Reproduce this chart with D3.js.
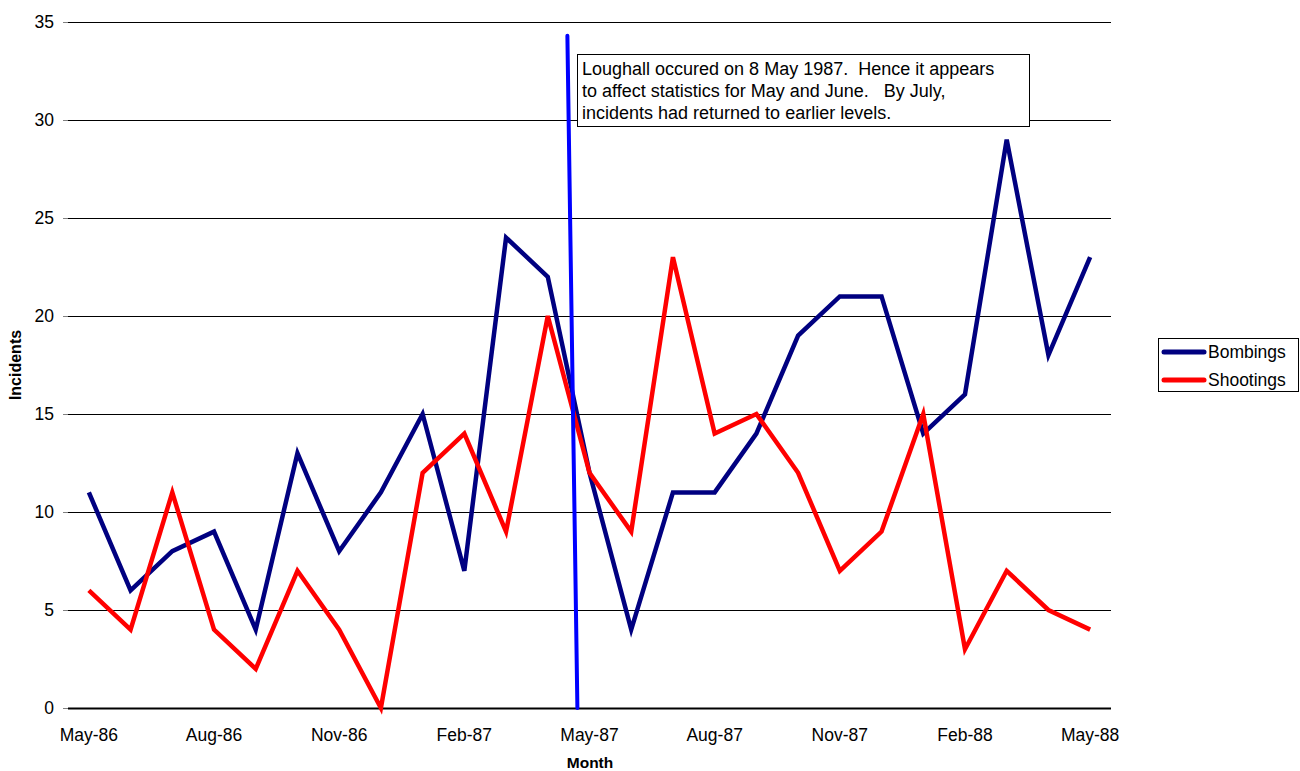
<!DOCTYPE html>
<html><head><meta charset="utf-8">
<script src="https://cdn.jsdelivr.net/npm/d3@7"></script>
<style>body{margin:0;background:#fff;}svg{display:block;font-family:"Liberation Sans",Arial,sans-serif;}</style>
</head><body>
<svg id="c" width="1300" height="771"></svg>
<script>
const months = ["May-86","Jun-86","Jul-86","Aug-86","Sep-86","Oct-86","Nov-86","Dec-86","Jan-87","Feb-87","Mar-87","Apr-87","May-87","Jun-87","Jul-87","Aug-87","Sep-87","Oct-87","Nov-87","Dec-87","Jan-88","Feb-88","Mar-88","Apr-88","May-88"];
const bombings = [11,6,8,9,4,13,8,11,15,7,24,22,12,4,11,11,14,19,21,21,14,16,29,18,23];
const shootings = [6,4,11,4,2,7,4,0,12,14,9,20,12,9,23,14,15,12,7,9,15,3,7,5,4];
const yTicks = [0,5,10,15,20,25,30,35];
const xTickLabels = ["May-86","Aug-86","Nov-86","Feb-87","May-87","Aug-87","Nov-87","Feb-88","May-88"];
const seriesNames = ["Bombings","Shootings"];
const seriesColors = ["#000080","#FF0000"];
const markerLine = [{i:11.47,v:34.3},{i:11.71,v:0}];
const noteLines = ["Loughall occured on 8 May 1987.  Hence it appears","to affect statistics for May and June.   By July,","incidents had returned to earlier levels."];

const svg = d3.select("#c");
const L=68, R=1111, T=22, B=708;
const x = d3.scaleLinear().domain([-0.5, months.length-0.5]).range([L,R]);
const y = d3.scaleLinear().domain([0,35]).range([B,T]);
const yr = v => Math.round(y(v)) + 0.5;

// gridlines
svg.append("g").selectAll("line").data(yTicks).join("line")
  .attr("x1",L).attr("x2",R).attr("y1",d=>yr(d)).attr("y2",d=>yr(d))
  .attr("stroke","#000").attr("stroke-width",1);
// y axis ticks
const ya = svg.append("g").attr("transform",`translate(${L},0)`)
  .call(d3.axisLeft(y).tickValues(yTicks).tickSize(5).tickPadding(9));
ya.select(".domain").remove();
ya.selectAll(".tick line").attr("stroke","#808080");
ya.selectAll("text").attr("font-size",17.5).attr("font-family","Liberation Sans, Arial").attr("fill","#000");
// x axis line
svg.append("line").attr("x1",L).attr("x2",R).attr("y1",B+0.5).attr("y2",B+0.5).attr("stroke","#000").attr("stroke-width",2);
// x labels
svg.append("g").selectAll("text").data(xTickLabels).join("text")
  .attr("x",d=>x(months.indexOf(d))).attr("y",741)
  .attr("text-anchor","middle").attr("font-size",17.5).text(d=>d);

// lines
const line = d3.line().x((d,i)=>x(i)).y(d=>y(d));
[bombings,shootings].forEach((s,k)=>{
  svg.append("path").datum(s).attr("d",line).attr("fill","none")
    .attr("stroke",seriesColors[k]).attr("stroke-width",4.5).attr("stroke-linejoin","miter");
});

// marker line
svg.append("path").datum(markerLine)
  .attr("d",d3.line().x(d=>x(d.i)).y(d=>y(d.v)))
  .attr("stroke","#0000FF").attr("stroke-width",4).attr("fill","none").attr("stroke-linecap","round");

// annotation box
svg.append("rect").attr("x",577.5).attr("y",54.5).attr("width",452).attr("height",72)
  .attr("fill","#fff").attr("stroke","#000").attr("stroke-width",1);
svg.append("g").selectAll("text").data(noteLines).join("text")
  .attr("x",582).attr("y",(d,i)=>75+i*22).attr("font-size",18)
  .style("white-space","pre").attr("xml:space","preserve").text(d=>d);

// axis titles
svg.append("text").attr("x",590).attr("y",768).attr("text-anchor","middle")
  .attr("font-size",15.5).attr("font-weight","bold").text("Month");
svg.append("text").attr("transform","translate(21,365) rotate(-90)").attr("text-anchor","middle")
  .attr("font-size",16).attr("font-weight","bold").text("Incidents");

// legend
const lg = svg.append("g");
lg.append("rect").attr("x",1158.5).attr("y",338.5).attr("width",140).attr("height",53)
  .attr("fill","#fff").attr("stroke","#000");
seriesNames.forEach((n,k)=>{
  const yy = 352 + k*28;
  lg.append("line").attr("x1",1164).attr("x2",1204).attr("y1",yy).attr("y2",yy)
    .attr("stroke",seriesColors[k]).attr("stroke-width",5).attr("stroke-linecap","round");
  lg.append("text").attr("x",1208).attr("y",yy+6).attr("font-size",17.5).text(n);
});
</script>
</body></html>
